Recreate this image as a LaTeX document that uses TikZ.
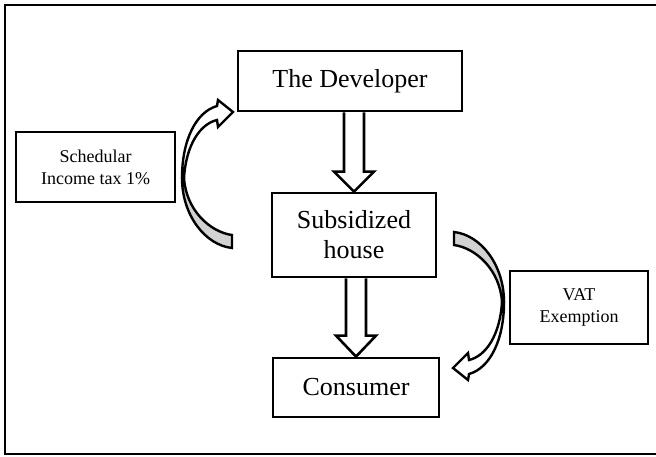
\documentclass[tikz,border=0pt]{standalone}
\usepackage{fontspec}
\setmainfont{Liberation Serif}
\usetikzlibrary{calc}
\begin{document}
\begin{tikzpicture}[x=0.5pt,y=-0.5pt,
  box/.style={draw, line width=1.4pt, align=center, inner sep=0pt},
  bigtext/.style={font=\fontsize{13}{15}\selectfont},
  smalltext/.style={font=\fontsize{9}{11}\selectfont},
  blockarrow/.style={draw, line width=1.3pt, fill=white, line join=miter},
  curvearrow/.style={draw, line width=1.2pt, line join=miter},
  backfill/.style={fill=gray!35},
]
\useasboundingbox (0,0) rectangle (656,456);
\draw[line width=1.4pt] (662,5) -- (5,5) -- (5,454) -- (662,454);

\node[box,bigtext,minimum width=112pt,minimum height=30pt] (dev) at (350,81) {The Developer};
\node[box,bigtext,minimum width=82pt,minimum height=42pt] (sub) at (354,235) {Subsidized\\house};
\node[box,bigtext,minimum width=83pt,minimum height=29.5pt] (con) at (356,387.5) {Consumer};
\node[box,smalltext,minimum width=79.5pt,minimum height=35pt] (tax) at (95.5,167) {Schedular\\Income tax 1\%};
\node[box,smalltext,minimum width=69pt,minimum height=36.5pt] (vat) at (579,307.5) {VAT\\Exemption};

\coordinate (a1) at (dev.south -| sub.north);
\coordinate (a2) at (sub.south -| con.north);

\draw[blockarrow] ($(a1)+(-10,0)$) -- ($(sub.north)+(-10,-20)$) -- ($(sub.north)+(-20,-20)$) -- (sub.north)
  -- ($(sub.north)+(20,-20)$) -- ($(sub.north)+(10,-20)$) -- ($(a1)+(10,0)$);
\draw[blockarrow] ($(a2)+(-10,0)$) -- ($(con.north)+(-10,-21)$) -- ($(con.north)+(-20,-21)$) -- (con.north)
  -- ($(con.north)+(20,-21)$) -- ($(con.north)+(10,-21)$) -- ($(a2)+(10,0)$);

% curved arrow: tax -> developer
\begin{scope}
\draw[curvearrow,backfill] (182,178) .. controls (182,215) and (205,245) .. (232,248) -- (232,235)
  .. controls (210,232) and (186,210) .. (184,178) -- cycle;
\draw[curvearrow,fill=white] (182,178) .. controls (182,140) and (196,112) .. (217,106) -- (218,100) -- (233,112)
  -- (218,127) -- (217,120) .. controls (200,124) and (186,145) .. (184,178) -- cycle;
\end{scope}

% curved arrow: subsidized house -> consumer
\begin{scope}[rotate around={180:(343,240)}]
\draw[curvearrow,backfill] (182,178) .. controls (182,215) and (205,245) .. (232,248) -- (232,235)
  .. controls (210,232) and (186,210) .. (184,178) -- cycle;
\draw[curvearrow,fill=white] (182,178) .. controls (182,140) and (196,112) .. (217,106) -- (218,100) -- (233,112)
  -- (218,127) -- (217,120) .. controls (200,124) and (186,145) .. (184,178) -- cycle;
\end{scope}
\end{tikzpicture}
\end{document}
